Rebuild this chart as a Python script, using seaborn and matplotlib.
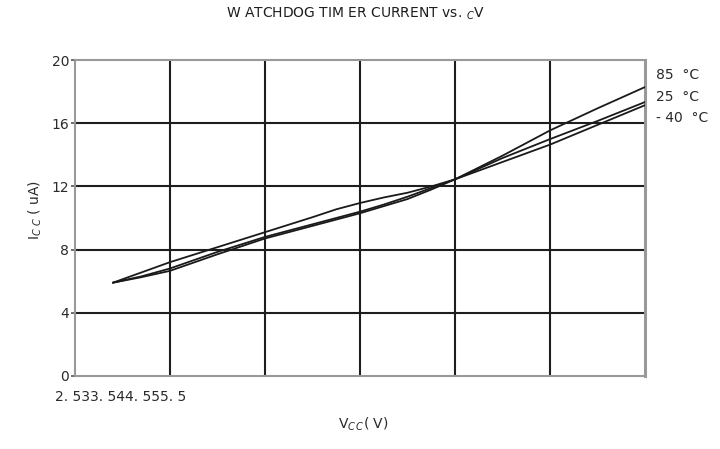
import pandas as pd
import matplotlib
matplotlib.use("Agg")
import matplotlib.pyplot as plt
import seaborn as sns

# supply voltage (V) and watchdog timer current (uA) per temperature
vcc = [2.7, 2.85, 3.0, 3.25, 3.5, 3.75, 3.875, 4.0, 4.125, 4.25, 4.375, 4.5,
       4.75, 5.0, 5.25, 5.5]
icc_85 = [5.9, 6.25, 6.65, 7.7, 8.7, 9.5, 9.9, 10.3, 10.75, 11.2, 11.8, 12.45,
          13.95, 15.55, 16.95, 18.3]
icc_25 = [5.9, 6.3, 6.8, 7.85, 8.8, 9.6, 10.0, 10.4, 10.85, 11.35, 11.9, 12.45,
          13.8, 15.0, 16.15, 17.35]
icc_m40 = [5.9, 6.55, 7.2, 8.15, 9.1, 10.05, 10.55, 10.95, 11.3, 11.6, 12.0, 12.45,
           13.55, 14.65, 15.9, 17.15]
temps = ["85  °C", "25  °C", "- 40  °C"]
y_ticks = [0, 4, 8, 12, 16, 20]
x_grid = [2.5, 3.0, 3.5, 4.0, 4.5, 5.0, 5.5]
x_tick_text = "2. 533. 544. 555. 5"

df = pd.concat([
    pd.DataFrame({"vcc": vcc, "icc": icc_85, "temp": temps[0]}),
    pd.DataFrame({"vcc": vcc, "icc": icc_25, "temp": temps[1]}),
    pd.DataFrame({"vcc": vcc, "icc": icc_m40, "temp": temps[2]}),
])

sns.set_style("white")
plt.rcParams["font.family"] = ["DejaVu Sans"]

fig = plt.figure(figsize=(7.2, 4.49), dpi=100)
ax = fig.add_axes([0.104, 0.163, 0.792, 0.703])

# grid
for x in x_grid[1:-1]:
    ax.axvline(x, color="#1e1e1e", lw=1.5, zorder=1)
for y in y_ticks[1:-1]:
    ax.axhline(y, color="#1e1e1e", lw=1.5, zorder=1)

sns.lineplot(data=df, x="vcc", y="icc", hue="temp", palette=["#1a1a1a"] * 3,
             linewidth=1.3, legend=False, ax=ax, zorder=3)

ax.set_xlim(2.5, 5.5)
ax.set_ylim(0, 20)
ax.set_xticks(x_grid)
ax.set_xticklabels([])
ax.set_yticks(y_ticks)
ax.set_yticklabels([str(v) for v in y_ticks], fontsize=10, color="#2a2a2a")
ax.tick_params(axis="y", length=3, width=1.2, color="#555555", pad=1, left=True)
ax.tick_params(axis="x", length=0)
ax.set_xlabel("")
ax.set_ylabel("")
for s in ax.spines.values():
    s.set_color("#999999")
    s.set_linewidth(1.5)
ax.spines["right"].set_linewidth(2.2)

# crammed x tick labels as in the original
fig.text(0.076, 0.116, x_tick_text, fontsize=10, color="#2a2a2a",
         ha="left", va="center")

# curve labels
ax.text(1.019, 0.953, temps[0], transform=ax.transAxes, fontsize=10,
        color="#2a2a2a", va="center", ha="left")
ax.text(1.019, 0.883, temps[1], transform=ax.transAxes, fontsize=10,
        color="#2a2a2a", va="center", ha="left")
ax.text(1.019, 0.818, temps[2], transform=ax.transAxes, fontsize=10,
        color="#2a2a2a", va="center", ha="left")

fig.text(0.493, 0.969, "W ATCHDOG TIM ER CURRENT vs. $_{C}$V", fontsize=10,
         color="#1e1e1e", ha="center", va="center")
fig.text(0.049, 0.532, "I$_{C\\ C}$ ( uA)", fontsize=10, color="#2a2a2a",
         rotation=90, ha="center", va="center")
fig.text(0.504, 0.056, "V$_{C\\,C}$( V)", fontsize=10, color="#2a2a2a",
         ha="center", va="center")

fig.savefig("out.png", dpi=100)
